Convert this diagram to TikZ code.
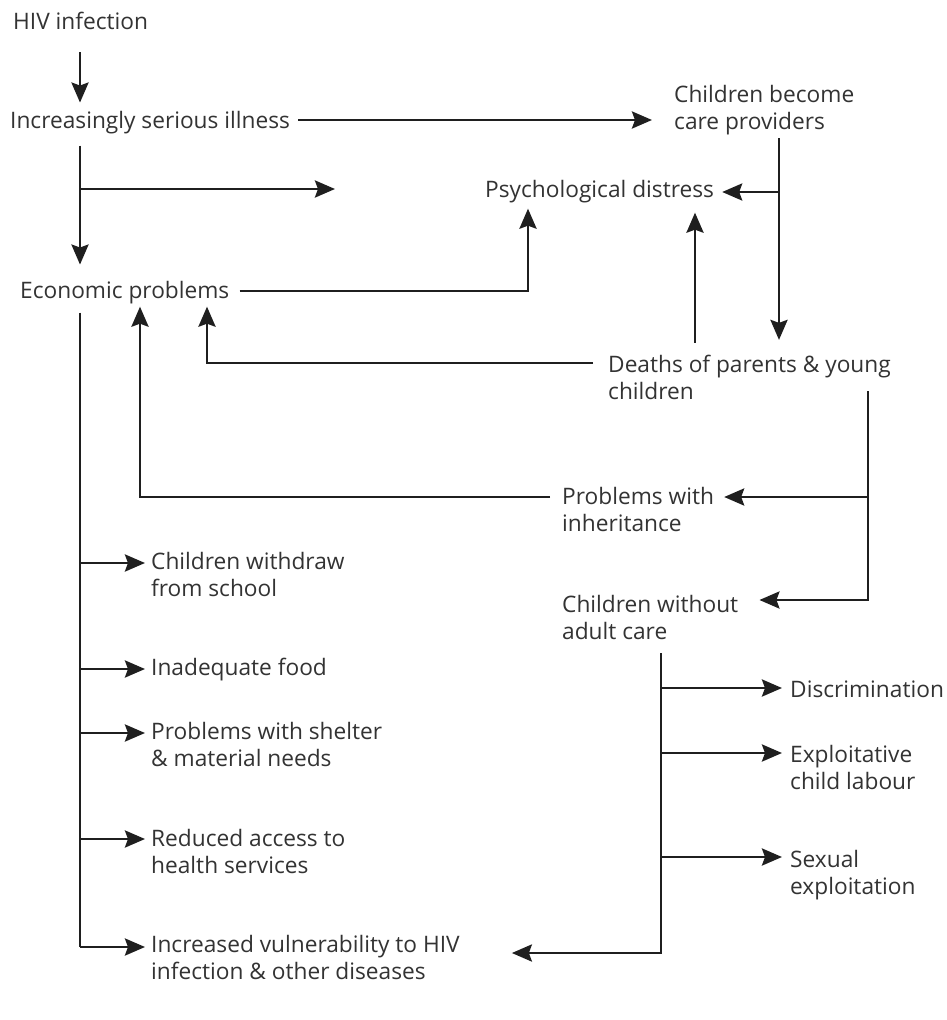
\documentclass[tikz,border=0pt]{standalone}
\usepackage{fontspec}
\setmainfont{Open Sans}
\usetikzlibrary{arrows.meta}
\definecolor{txt}{HTML}{333333}
\definecolor{ln}{HTML}{1F1F1F}
\newcommand{\twol}[2]{\begin{tabular}[t]{@{}l@{}}#1\\#2\end{tabular}}
\begin{document}
\begin{tikzpicture}[x=1pt,y=-1pt,
  lbl/.style={anchor=base west,inner sep=0pt,text=txt,font=\fontsize{22.7}{27}\selectfont},
  conn/.style={draw=ln,line width=2.9pt},
  arr/.style={conn,-{Stealth[length=20pt,width=17pt,inset=3pt]}}]
\useasboundingbox (0,0) rectangle (946,1020);
\fill[white] (0,0) rectangle (946,1020);
% nodes
\node[lbl] (hiv) at (13,29) {HIV infection};
\node[lbl] (ill) at (10,128) {Increasingly serious illness};
\node[lbl] (cbc) at (674,102) {\twol{Children become}{care providers}};
\node[lbl] (psy) at (485,197) {Psychological distress};
\node[lbl] (eco) at (20,298) {Economic problems};
\node[lbl] (dea) at (608,372) {\twol{Deaths of parents \& young}{children}};
\node[lbl] (inh) at (562,504) {\twol{Problems with}{inheritance}};
\node[lbl] (cwa) at (562,612) {\twol{Children without}{adult care}};
\node[lbl] (sch) at (151,569) {\twol{Children withdraw}{from school}};
\node[lbl] (food) at (151,675) {Inadequate food};
\node[lbl] (shel) at (151,739) {\twol{Problems with shelter}{\& material needs}};
\node[lbl] (hea) at (151,846) {\twol{Reduced access to}{health services}};
\node[lbl] (vul) at (151,952) {\twol{Increased vulnerability to HIV}{infection \& other diseases}};
\node[lbl] (dis) at (790,697) {Discrimination};
\node[lbl] (lab) at (790,762) {\twol{Exploitative}{child labour}};
\node[lbl] (sex) at (790,867) {\twol{Sexual}{exploitation}};
% coordinates
\coordinate (L) at (80,0);
\coordinate (y120) at (0,120);
\coordinate (j1) at (80,189);
\coordinate (j1e) at (335,189);
\coordinate (b1) at (528,291);
\coordinate (R1) at (779,0);
\coordinate (j2) at (779,192);
\coordinate (c695) at (695,0);
\coordinate (b2) at (207,363);
\coordinate (R2b) at (868,600);
\coordinate (j3) at (868,497);
\coordinate (b3) at (140,497);
\coordinate (t5) at (80,947);
\coordinate (k1) at (80,563);
\coordinate (k2) at (80,669);
\coordinate (k3) at (80,733);
\coordinate (k4) at (80,839);
\coordinate (R3) at (661,953);
\coordinate (m1) at (661,688);
\coordinate (m2) at (661,753);
\coordinate (m3) at (661,857);
% connectors
\draw[arr,shorten <=23pt,shorten >=8pt] (hiv.south -| L) -- (ill.north -| L);
\draw[arr,shorten <=8pt,shorten >=22pt] (ill.east |- y120) -- (cbc.west |- y120);
\draw[arr,shorten <=12pt,shorten >=16pt] (ill.south -| L) -- (eco.north -| L);
\draw[arr] (j1) -- (j1e);
\draw[arr,shorten <=10pt,shorten >=6pt] (eco.east |- b1) -- (b1) -- (psy.south -| b1);
\draw[arr,shorten <=1pt,shorten >=13pt] (cbc.south -| R1) -- (dea.north -| R1);
\draw[arr,shorten >=8pt] (j2) -- (psy.east |- j2);
\draw[arr,shorten <=10pt,shorten >=10pt] (dea.north -| c695) -- (psy.south -| c695);
\draw[arr,shorten <=15pt,shorten >=3pt] (dea.west |- b2) -- (b2) -- (eco.south -| b2);
\draw[arr,shorten <=19pt,shorten >=21pt] (dea.base -| R2b) -- (R2b) -- (cwa.east |- R2b);
\draw[arr,shorten >=10pt] (j3) -- (inh.east |- j3);
\draw[arr,shorten <=12pt,shorten >=3pt] (inh.west |- b3) -- (b3) -- (eco.south -| b3);
\draw[conn,shorten <=9pt] (eco.south -| L) -- (t5);
\draw[arr,shorten >=6pt] (k1) -- (sch.west |- k1);
\draw[arr,shorten >=6pt] (k2) -- (food.west |- k2);
\draw[arr,shorten >=6pt] (k3) -- (shel.west |- k3);
\draw[arr,shorten >=6pt] (k4) -- (hea.west |- k4);
\draw[arr,shorten >=6pt] (t5) -- (vul.west |- t5);
\draw[arr,shorten <=6pt,shorten >=52pt] (cwa.south -| R3) -- (R3) -- (vul.east |- R3);
\draw[arr,shorten >=8pt] (m1) -- (dis.west |- m1);
\draw[arr,shorten >=8pt] (m2) -- (lab.west |- m2);
\draw[arr,shorten >=8pt] (m3) -- (sex.west |- m3);
\end{tikzpicture}
\end{document}
